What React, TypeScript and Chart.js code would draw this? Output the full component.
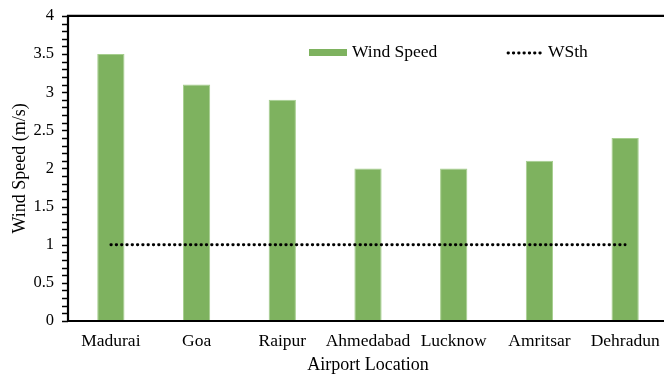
import React, { useEffect, useRef } from "react";
import { Chart, registerables } from "chart.js";

Chart.register(...registerables);

const categories = ["Madurai", "Goa", "Raipur", "Ahmedabad", "Lucknow", "Amritsar", "Dehradun"];
const windSpeed = [3.5, 3.1, 2.9, 2.0, 2.0, 2.1, 2.4];
const wsth = [1, 1, 1, 1, 1, 1, 1];
const yMin = 0;
const yMax = 4;
const yStep = 0.5;
const yMinorStep = 0.1;

const FONT = "'Liberation Serif', 'Times New Roman', serif";
const BAR_FILL = "#7EB25F";
const BAR_EDGE = "#A6CE8E";

const framePlugin = {
  id: "frame",
  afterDraw(chart: any) {
    const { ctx, chartArea } = chart;
    const y = chart.scales.y;
    ctx.save();
    ctx.strokeStyle = "#000";
    ctx.lineWidth = 1.5;
    const n = Math.round((yMax - yMin) / yMinorStep);
    for (let i = 0; i <= n; i++) {
      const v = yMin + i * yMinorStep;
      const py = Math.round(y.getPixelForValue(v)) + 0.5;
      ctx.beginPath();
      ctx.moveTo(chartArea.left - 6, py);
      ctx.lineTo(chartArea.left, py);
      ctx.stroke();
    }
    ctx.lineWidth = 2.2;
    ctx.beginPath();
    ctx.moveTo(chartArea.left, chartArea.bottom);
    ctx.lineTo(chartArea.left, chartArea.top);
    ctx.lineTo(chartArea.right - 1, chartArea.top);
    ctx.lineTo(chartArea.right - 1, chartArea.bottom);
    ctx.closePath();
    ctx.stroke();

    // legend drawn inside plot area
    const ly = 52;
    ctx.fillStyle = BAR_FILL;
    ctx.fillRect(309, ly - 3, 38, 7);
    ctx.font = `17.5px ${FONT}`;
    ctx.fillStyle = "#000";
    ctx.textBaseline = "middle";
    ctx.textAlign = "left";
    ctx.fillText("Wind Speed", 352, ly);
    ctx.lineWidth = 2.8;
    ctx.lineCap = "round";
    ctx.setLineDash([0.5, 4.8]);
    ctx.beginPath();
    ctx.moveTo(508, ly + 1);
    ctx.lineTo(544, ly + 1);
    ctx.stroke();
    ctx.setLineDash([]);
    ctx.fillText("WSth", 548, ly);
    ctx.restore();
  },
};

export default function App() {
  const ref = useRef<HTMLCanvasElement | null>(null);
  useEffect(() => {
    document.body.style.margin = "0";
    if (!ref.current) return;
    const chart = new Chart(ref.current, {
      type: "bar",
      data: {
        labels: categories,
        datasets: [
          {
            type: "line",
            label: "WSth",
            data: wsth,
            borderColor: "#000",
            borderWidth: 2.8,
            borderDash: [0.5, 4.8],
            borderCapStyle: "round",
            pointRadius: 0,
            fill: false,
            order: 0,
          } as any,
          {
            type: "bar",
            label: "Wind Speed",
            data: windSpeed,
            backgroundColor: BAR_FILL,
            borderColor: BAR_EDGE,
            borderWidth: 1,
            categoryPercentage: 1,
            barPercentage: 0.318,
            order: 1,
          },
        ],
      },
      plugins: [framePlugin],
      options: {
        animation: false,
        responsive: false,
        layout: { padding: { top: 14, right: 0, left: 0, bottom: 0 } },
        plugins: { legend: { display: false }, tooltip: { enabled: false } },
        scales: {
          x: {
            grid: { display: false },
            border: { display: false },
            ticks: { color: "#000", font: { family: FONT, size: 17.5 }, padding: 2, maxRotation: 0, autoSkip: false },
            title: { display: true, text: "Airport Location", color: "#000", font: { family: FONT, size: 18 }, padding: { top: 0, bottom: 2 } },
            afterFit(scale: any) {
              scale.height = 57;
            },
          },
          y: {
            min: yMin,
            max: yMax,
            grid: { display: false },
            border: { display: false },
            ticks: {
              stepSize: yStep,
              color: "#000",
              font: { family: FONT, size: 16.5 },
              padding: 6,
              callback: (v: any) => String(Number(v)),
            },
            title: { display: true, text: "Wind Speed (m/s)", color: "#000", font: { family: FONT, size: 18 }, padding: { top: 9, bottom: 0 } },
            afterFit(scale: any) {
              scale.width = 68;
            },
          },
        },
      },
    });
    return () => chart.destroy();
  }, []);
  return (
    <div style={{ width: 664, height: 378, overflow: "hidden", background: "#fff" }}>
      <canvas ref={ref} width={668} height={378} style={{ display: "block" }} />
    </div>
  );
}
